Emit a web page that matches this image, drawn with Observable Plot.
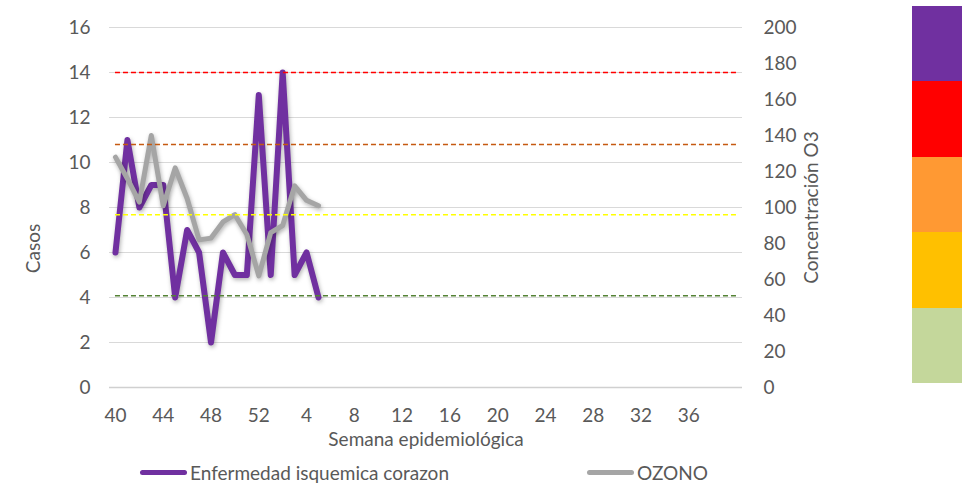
<!DOCTYPE html>
<html>
<head>
<meta charset="utf-8">
<script src="https://cdn.jsdelivr.net/npm/d3@7"></script>
<script src="https://cdn.jsdelivr.net/npm/@observablehq/plot@0.6"></script>
<style>
  html, body { margin: 0; padding: 0; background: #fff; }
  #wrap { position: relative; width: 962px; height: 484px; overflow: hidden; font-family: Lato, "Open Sans", sans-serif; color: #595959; }
  #chart { position: absolute; left: 0; top: 0; }
  .leg { position: absolute; top: 461px; height: 22px; display: flex; align-items: center; font-size: 19px; color: #595959; white-space: nowrap; }
  .leg .sw { display: inline-block; width: 47px; height: 5px; border-radius: 3px; margin-right: 3px; }
  #bar { position: absolute; left: 912px; top: 6px; width: 52px; height: 377px; display: flex; flex-direction: column; }
  #bar div { flex: 1; }
</style>
</head>
<body>
<div id="wrap">
  <div id="chart"></div>
  <div id="bar"></div>
</div>
<script>
// Semanas epidemiológicas (categorías del eje X)
const weeks = [40,41,42,43,44,45,46,47,48,49,50,51,52,1,2,3,4,5,6,7,8,9,10,11,12,13,14,15,16,17,18,19,20,21,22,23,24,25,26,27,28,29,30,31,32,33,34,35,36,37,38,39,40];
// Casos: Enfermedad isquemica corazon (eje izquierdo)
const casos = [6,11,8,9,9,4,7,6,2,6,5,5,13,5,14,5,6,4];
// OZONO (eje derecho, Concentración O3)
const ozono = [128,116,103,140,101,122,105,82,83,92,96,85,62,86,90,112,104,101];
// Umbrales de concentración O3 (líneas discontinuas)
const umbrales = [51, 96, 135, 175];
const umbralColores = ["#548235", "#FFFF00", "#C55A11", "#FF0000"];
// Ticks
const leftTicks = [0,2,4,6,8,10,12,14,16];
const rightTicks = [0,20,40,60,80,100,120,140,160,180,200];
const xTickIdx = [0,4,8,12,16,20,24,28,32,36,40,44,48];
// Barra de colores (de arriba a abajo)
const barColores = ["#7030A0", "#FF0000", "#FF9933", "#FFC000", "#C4D79B"];
// Leyenda
const series = ["Enfermedad isquemica corazon", "OZONO"];
const seriesColores = ["#7030A0", "#A5A5A5"];

const k = 16 / 200; // right axis -> left axis
const casosData = casos.map((v, i) => ({i, v}));
const ozonoData = ozono.map((v, i) => ({i, v: v * k}));
const umbralData = umbrales.map((u, j) => ({y: u * k, c: umbralColores[j]}));
const lastIdx = weeks.length - 1;

const fs = 19;
const plot = Plot.plot({
  width: 962,
  height: 455,
  marginLeft: 109,
  marginRight: 220,
  marginTop: 27,
  marginBottom: 68,
  style: {fontFamily: "Lato, 'Open Sans', sans-serif", fontSize: fs + "px", color: "#595959", overflow: "visible"},
  x: {domain: [-0.5, weeks.length - 0.5], axis: null},
  y: {domain: [0, 16], axis: null},
  marks: [
    Plot.gridY(leftTicks.filter(d => d > 0), {stroke: "#D9D9D9", strokeOpacity: 1, strokeWidth: 1.2}),
    Plot.ruleY([0], {stroke: "#D0D0D0", strokeWidth: 1.5}),
    Plot.axisY(leftTicks, {tickSize: 0, tickPadding: 19, fontSize: fs, fill: "#595959", label: null}),
    Plot.text(rightTicks, {y: d => d * k, text: d => String(d), frameAnchor: "right", dx: 21, textAnchor: "start", fontSize: fs, fill: "#595959"}),
    Plot.axisX(xTickIdx, {tickSize: 0, tickPadding: 21, tickFormat: i => String(weeks[i]), fontSize: fs, fill: "#595959", label: null}),
    Plot.text(["Casos"], {frameAnchor: "left", textAnchor: "middle", dx: -76, dy: 41, rotate: -90, fontSize: fs, fill: "#595959"}),
    Plot.text(["Concentración O3"], {frameAnchor: "right", textAnchor: "middle", dx: 69, rotate: -90, fontSize: fs, fill: "#595959"}),
    Plot.text(["Semana epidemiológica"], {frameAnchor: "bottom", dy: 58, fontSize: fs, fill: "#595959"}),
    Plot.line(casosData, {x: "i", y: "v", stroke: seriesColores[0], strokeWidth: 6, strokeLinejoin: "round", strokeLinecap: "round"}),
    Plot.line(ozonoData, {x: "i", y: "v", stroke: seriesColores[1], strokeWidth: 5, strokeLinejoin: "round", strokeLinecap: "round"}),
    Plot.ruleY(umbralData, {y: "y", x1: 0, x2: lastIdx, stroke: "c", strokeWidth: 1.5, strokeDasharray: "5,3"})
  ]
});
document.getElementById("chart").appendChild(plot);
d3.select(plot).selectAll('g[aria-label="line"]').style("filter", "drop-shadow(1px 2px 2px rgba(0,0,0,0.3))");

// Color bar
const bar = d3.select("#bar");
barColores.forEach(c => bar.append("div").style("background", c));

// Legend
const legX = [140, 587];
series.forEach((s, j) => {
  const d = d3.select("#wrap").append("div").attr("class", "leg").style("left", legX[j] + "px");
  d.append("span").attr("class", "sw").style("background", seriesColores[j]);
  d.append("span").text(s);
});
</script>
</body>
</html>
